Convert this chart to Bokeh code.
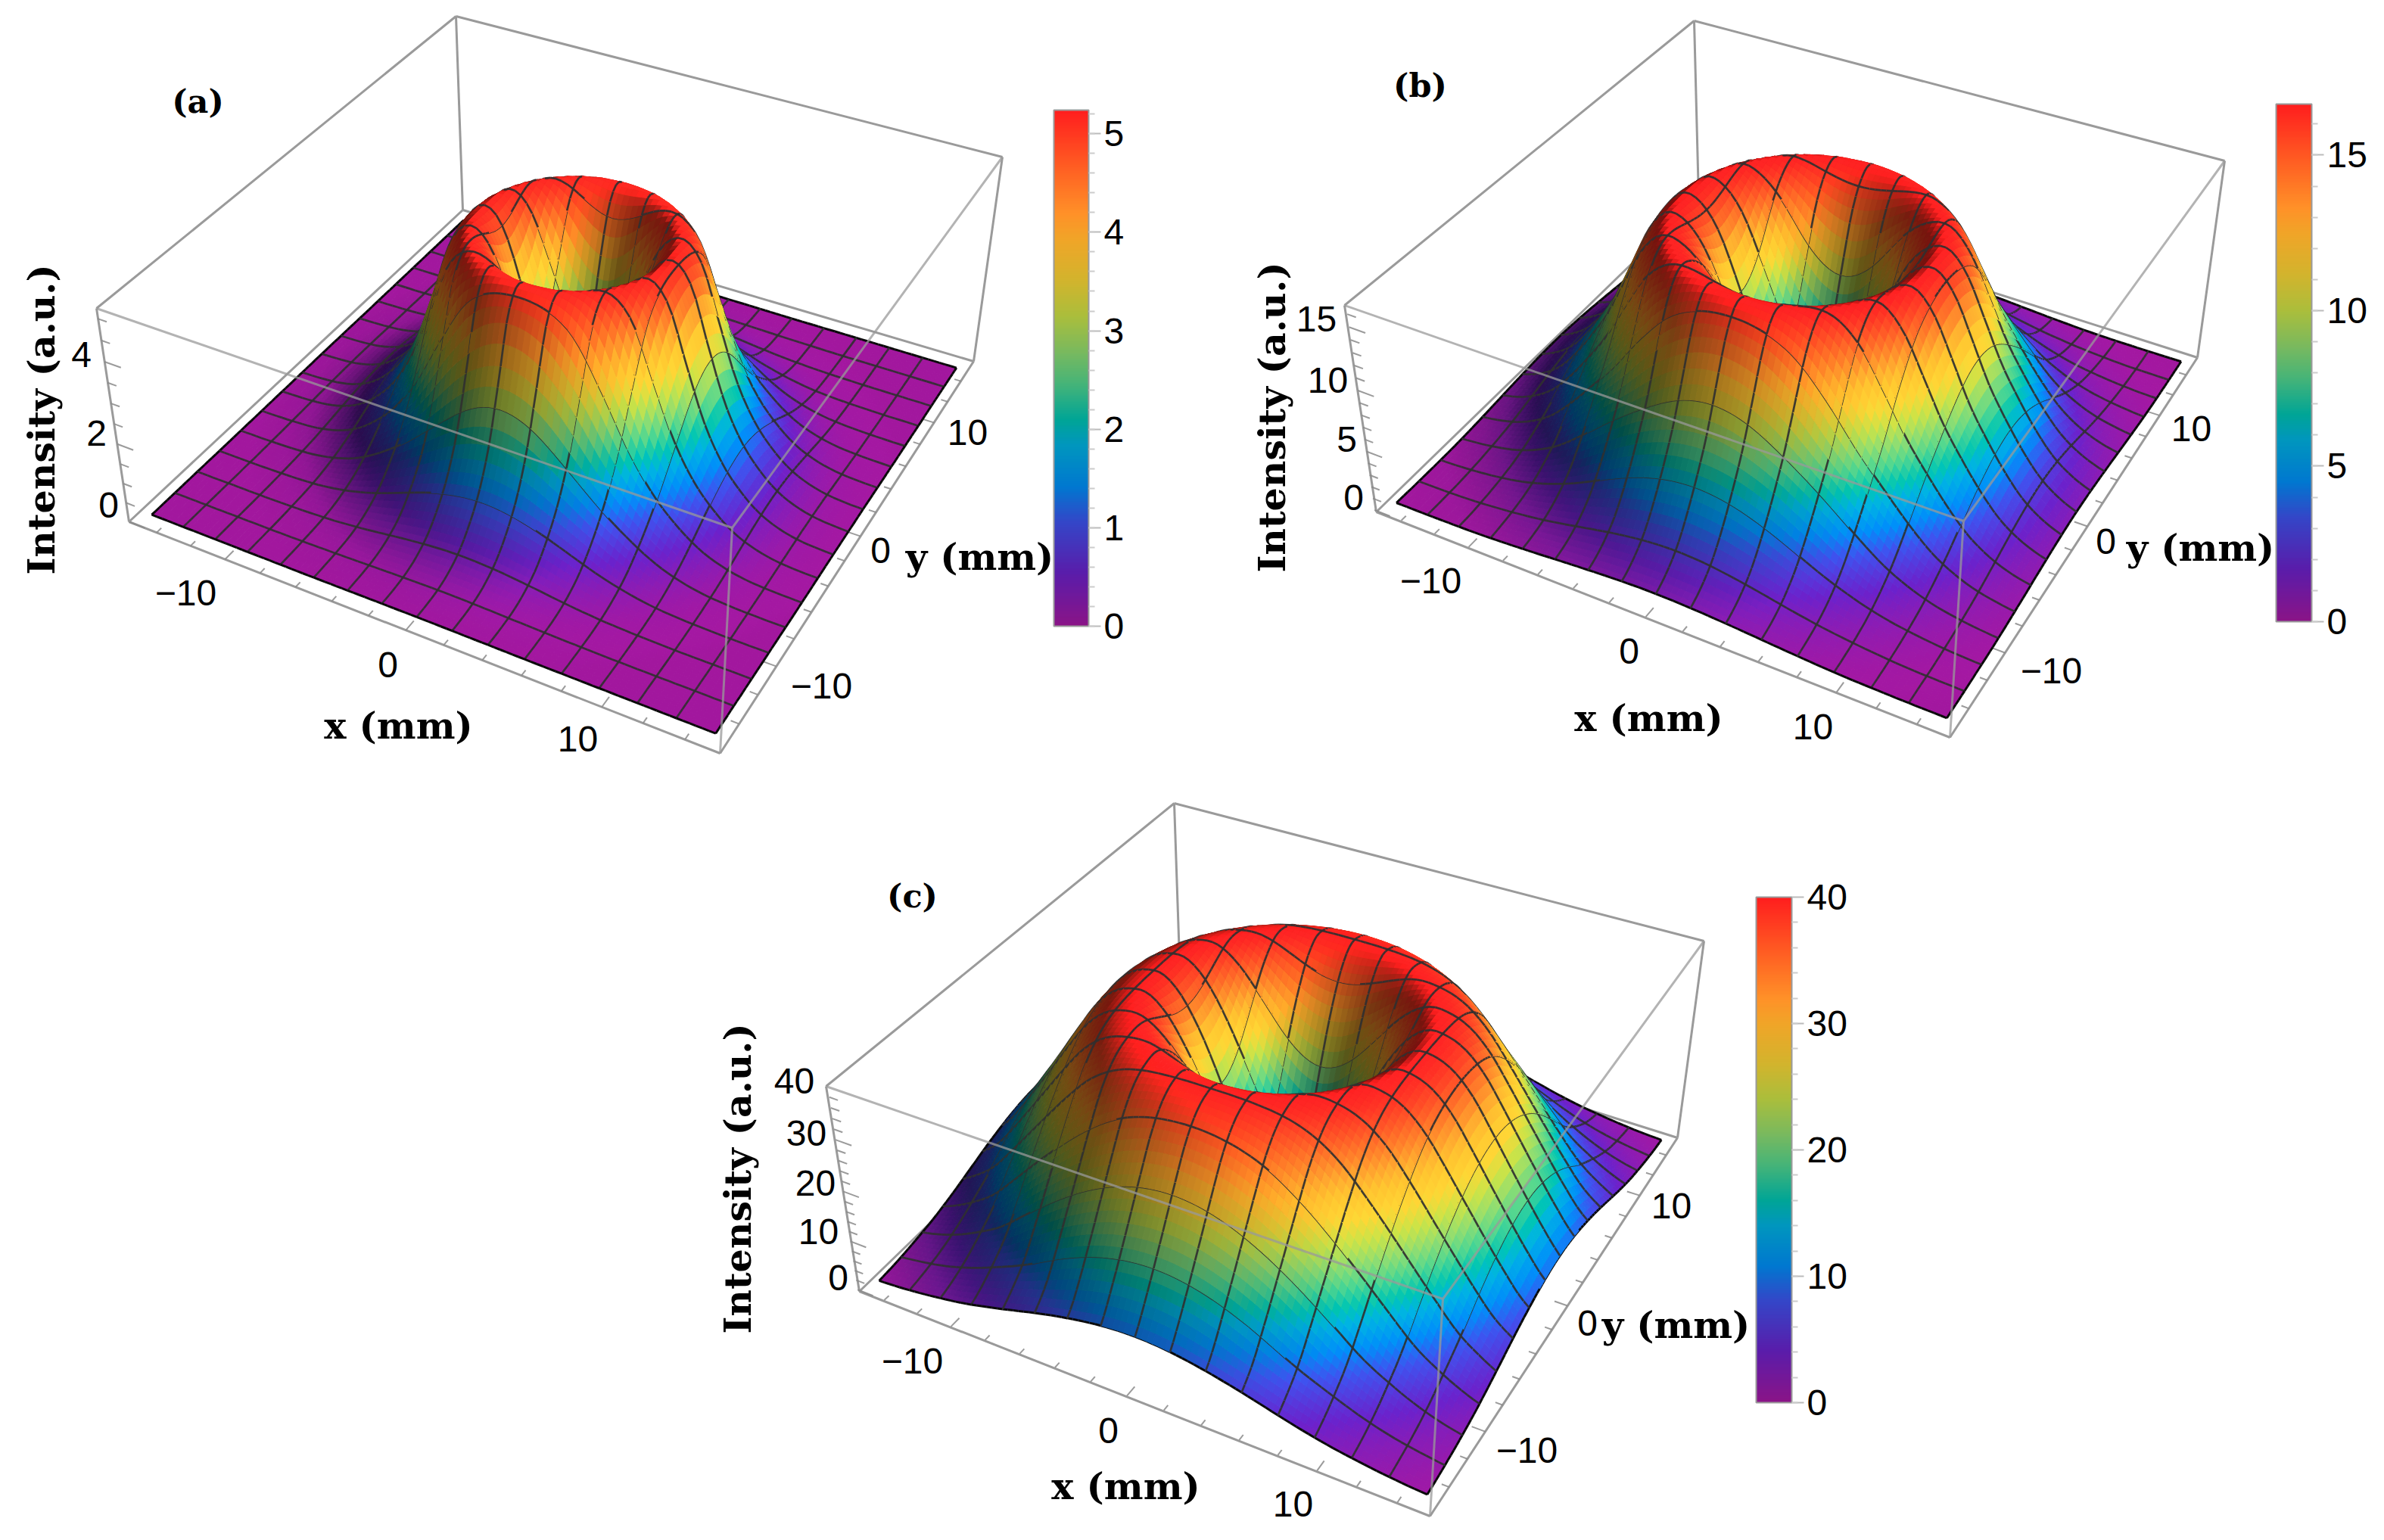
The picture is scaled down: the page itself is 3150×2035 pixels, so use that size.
import numpy as np
from bokeh.plotting import figure
from bokeh.layouts import column, row
from bokeh.models import Range1d, ColumnDataSource, ColorBar, LinearColorMapper, FixedTicker, Spacer
from bokeh.core.properties import value
from bokeh.embed import file_html
from bokeh.resources import INLINE

# ---- data -----------------------------------------------------------------
R_MM = [0, 1, 2, 3, 4, 5, 6, 7, 8, 9, 10, 11, 12, 13, 14, 15, 16, 17, 18, 19, 20, 21, 22, 23]
I_A = [0, .45, 1.8, 3.5, 4.8, 5.2, 4.75, 3.45, 2.2, 1.35, .8, .42, .2, .08, .03, .01, 0, 0, 0, 0, 0, 0, 0, 0]
I_B = [0, 1.0, 3.6, 7.0, 11.0, 14.5, 16.3, 16.6, 15.0, 12.0, 8.9, 6.5, 4.4, 2.7, 1.6, .9, .5, .25, .1, .04, .01, 0, 0, 0]
I_C = [0, 1.8, 7.2, 15.5, 24, 31.5, 37, 39.8, 39.7, 38, 34.5, 29.5, 24.2, 19, 14, 9.5, 6.5, 4.2, 2.6, 1.6, .9, .47, .25, .1]
ZMAX_A, ZMAX_B, ZMAX_C = 5.24, 16.64, 40.0
CENTER_A, CENTER_B, CENTER_C = (0.3, -0.1), (0.0, 0.0), (0.0, 0.0)
Z_TICKS_A, Z_TICKS_B, Z_TICKS_C = [0, 2, 4], [0, 5, 10, 15], [0, 10, 20, 30, 40]
BAR_TICKS_A, BAR_TICKS_B, BAR_TICKS_C = [0, 1, 2, 3, 4, 5], [0, 5, 10, 15], [0, 10, 20, 30, 40]
Z_MINOR_A, Z_MINOR_B, Z_MINOR_C = 0.5, 1.0, 2.0
BAR_MINOR_A, BAR_MINOR_B, BAR_MINOR_C = 0.2, 1.0, 2.0
XY_TICKS = [-10, 0, 10]
XY_MINOR = [-14, -12, -8, -6, -4, -2, 2, 4, 6, 8, 12, 14]
XLABEL, YLABEL, ZLABEL = "x (mm)", "y (mm)", "Intensity (a.u.)"

# ---- styling -------------------------------------------------------------
STOPS = [(0, (138, 20, 135)), (.1, (90, 28, 170)), (.2, (52, 70, 200)), (.27, (0, 120, 208)), (.35, (0, 150, 190)),
         (.4, (0, 165, 150)), (.47, (70, 180, 120)), (.53, (120, 185, 95)), (.6, (170, 190, 60)), (.67, (210, 180, 45)),
         (.75, (240, 165, 40)), (.8, (255, 145, 40)), (.88, (255, 100, 35)), (1, (255, 30, 30))]
SP = np.array([s[0] for s in STOPS])
SC = np.array([s[1] for s in STOPS], float)
NUM = "Liberation Sans"
SERIF = "DejaVu Serif"
EDGE = "#9a9a9a"


def cmap(t):
    return np.stack([np.interp(t, SP, SC[:, i]) for i in range(3)], axis=-1)


PALETTE = ["#%02x%02x%02x" % tuple(int(round(c)) for c in cmap(i / 255)) for i in range(256)]


def catmull(r, rs, vs):
    rs = np.asarray(rs, float); vs = np.asarray(vs, float)
    i = np.clip(np.floor(r).astype(int), 0, len(rs) - 2)
    t = r - rs[i]
    p0 = vs[np.maximum(i - 1, 0)]; p1 = vs[i]; p2 = vs[i + 1]; p3 = vs[np.minimum(i + 2, len(rs) - 1)]
    return np.maximum(0, .5 * (2 * p1 + (p2 - p0) * t + (2 * p0 - 5 * p1 + 4 * p2 - p3) * t * t + (3 * p1 - p0 - 3 * p2 + p3) * t ** 3))


class Cam:
    def __init__(self, c):
        # c: pixel positions of box corners LB FB RB BB LT FT RT BT
        uvw = [(0, 0, 0), (1, 0, 0), (1, 1, 0), (0, 1, 0), (0, 0, 1), (1, 0, 1), (1, 1, 1), (0, 1, 1)]
        A = []
        for (u, v, w), (x, y) in zip(uvw, c):
            x /= 1000; y /= 1000
            A.append([u, v, w, 1, 0, 0, 0, 0, -x * u, -x * v, -x * w, -x])
            A.append([0, 0, 0, 0, u, v, w, 1, -y * u, -y * v, -y * w, -y])
        _, _, V = np.linalg.svd(np.array(A))
        self.P = V[-1].reshape(3, 4)
        _, _, V2 = np.linalg.svd(self.P)
        self.C = V2[-1][:3] / V2[-1][3]

    def project(self, u, v, w):
        u, v, w = np.asarray(u, float), np.asarray(v, float), np.asarray(w, float)
        X = np.stack([u, v, w, np.ones_like(u)], axis=-1)
        h = X @ self.P.T
        return 1000 * h[..., 0] / h[..., 2], 1000 * h[..., 1] / h[..., 2]

    def dist(self, u, v, w):
        return np.sqrt((u - self.C[0]) ** 2 + (v - self.C[1]) ** 2 + (w - self.C[2]) ** 2)


PADX, PADY = 0.02, 0.03
def U(x): return PADX + (np.asarray(x, float) + 15) / 30 * (1 - 2 * PADX)
def V(y): return PADY + (np.asarray(y, float) + 15) / 30 * (1 - 2 * PADY)

L = np.array([.72, -.05, .69]); L = L / np.linalg.norm(L)
HEIGHT = 0.6
SUB = 6


def panel(frame, corners, prof, center, zmax, zt, zminor, bar, bart, barminor, tx, ty, tz, lx, ly, lz, tag):
    x0, x1, y0, y1 = frame
    p = figure(width=x1 - x0, height=y1 - y0, x_range=Range1d(x0, x1), y_range=Range1d(y1, y0),
               x_axis_location=None, y_axis_location=None, toolbar_location=None, output_backend="svg",
               min_border=0, outline_line_color=None)
    p.grid.visible = False
    cam = Cam(corners)
    c = {k: corners[i] for i, k in enumerate("LB FB RB BB LT FT RT BT".split())}

    def edges(names, alpha, width=3):
        xs = [[c[a][0], c[b][0]] for a, b in names]
        ys = [[c[a][1], c[b][1]] for a, b in names]
        p.multi_line(xs, ys, line_color=EDGE, line_width=width, line_alpha=alpha)

    edges([("LB", "FB"), ("FB", "RB"), ("RB", "BB"), ("BB", "LB"), ("BT", "BB"), ("BT", "LT"), ("BT", "RT"),
           ("LT", "LB"), ("RT", "RB")], 1)

    # axis ticks on the box
    def ticks(seq, fn, col="#8a8a8a", width=2):
        xs, ys = [], []
        for s, ln in seq:
            a, b = fn(s, ln)
            xs.append([float(a[0]), float(b[0])]); ys.append([float(a[1]), float(b[1])])
        p.multi_line(xs, ys, line_color=col, line_width=width, line_alpha=.85)

    seqx = [(t, .022) for t in XY_TICKS] + [(t, .012) for t in XY_MINOR]
    ticks(seqx, lambda s, l: (cam.project(U(s), 0, 0), cam.project(U(s), l, 0)))
    ticks(seqx, lambda s, l: (cam.project(1, V(s), 0), cam.project(1 - l, V(s), 0)))
    zs = np.arange(0, zmax, zminor)
    seqz = [(float(t), .03 if min(abs(t - m) for m in zt) < 1e-6 else .016) for t in zs]
    ticks(seqz, lambda s, l: (cam.project(0, 0, s / zmax), cam.project(l, 0, s / zmax)))

    # surface on a fine grid, mesh lines share its vertices
    n = 16 * SUB
    gx = np.linspace(-15, 15, n + 1)
    X, Y = np.meshgrid(gx, gx, indexing="ij")
    Z = catmull(np.hypot(X - center[0], Y - center[1]), R_MM, prof)
    u, v, w = U(X), V(Y), Z / zmax
    px, py = cam.project(u, v, w)
    h = w * HEIGHT
    du = (u[1:, 1:] + u[1:, :-1] - u[:-1, 1:] - u[:-1, :-1]) / 2
    dv = (v[1:, 1:] - v[1:, :-1] + v[:-1, 1:] - v[:-1, :-1]) / 2
    dhu = (h[1:, 1:] + h[1:, :-1] - h[:-1, 1:] - h[:-1, :-1]) / 2 / du
    dhv = (h[1:, 1:] - h[1:, :-1] + h[:-1, 1:] - h[:-1, :-1]) / 2 / dv
    nrm = np.sqrt(dhu ** 2 + dhv ** 2 + 1)
    nl = np.maximum(0, (-dhu * L[0] - dhv * L[1] + L[2]) / nrm)
    shade = np.minimum(.47 + 1.02 * nl, 1.2)
    wc = (w[1:, 1:] + w[1:, :-1] + w[:-1, 1:] + w[:-1, :-1]) / 4
    rgb = np.clip(cmap(np.clip(wc, 0, 1)) * shade[..., None], 0, 255).astype(int)

    items = []
    for i in range(n):
        for j in range(n):
            col = "#%02x%02x%02x" % tuple(rgb[i, j])
            uc = u[i:i + 2, j:j + 2].mean(); vc = v[i:i + 2, j:j + 2].mean(); wc_ = wc[i, j]
            d = cam.dist(uc, vc, wc_)
            items.append((d, [round(float(px[a, b]), 1) for a, b in ((i, j), (i + 1, j), (i + 1, j + 1), (i, j + 1))],
                          [round(float(py[a, b]), 1) for a, b in ((i, j), (i + 1, j), (i + 1, j + 1), (i, j + 1))],
                          col, col, 1.0, 1.0, 1.0))
    for k in range(17):
        idx = k * SUB
        edge = k in (0, 16)
        lc = "#0a0a0a" if edge else "#303030"
        la = 1.0 if edge else .92
        lw = 3.0 if edge else 2.7
        for m in range(n):
            for a0, b0, a1, b1 in ((idx, m, idx, m + 1), (m, idx, m + 1, idx)):
                um = (u[a0, b0] + u[a1, b1]) / 2; vm = (v[a0, b0] + v[a1, b1]) / 2; wm = (w[a0, b0] + w[a1, b1]) / 2
                d = cam.dist(um, vm, wm) - .012
                items.append((d, [round(float(px[a0, b0]), 1), round(float(px[a1, b1]), 1)],
                              [round(float(py[a0, b0]), 1), round(float(py[a1, b1]), 1)],
                              lc, lc, 0.0, la, lw))
    items.sort(key=lambda t: -t[0])
    src = ColumnDataSource(dict(xs=[t[1] for t in items], ys=[t[2] for t in items], fc=[t[3] for t in items],
                                lc=[t[4] for t in items], fa=[t[5] for t in items], la=[t[6] for t in items],
                                lw=[t[7] for t in items]))
    p.patches("xs", "ys", source=src, fill_color="fc", line_color="lc", fill_alpha="fa", line_alpha="la", line_width="lw")

    edges([("LT", "FT"), ("FT", "RT"), ("FT", "FB")], .75)

    # texts
    def txt(pts, labels, font, size, style="normal", angle=0.0):
        p.text(x=[q[0] for q in pts], y=[q[1] for q in pts], text=labels, text_font=value(font), text_font_size=size,
               text_font_style=style, text_align="center", text_baseline="middle", text_color="black", angle=angle)

    def lab(t):
        return str(t).replace("-", "\u2212")

    txt(tx, [lab(t) for t in XY_TICKS], NUM, "48px")
    txt(ty, [lab(t) for t in XY_TICKS], NUM, "48px")
    txt(tz, [lab(t) for t in zt], NUM, "48px")
    txt([lx], [XLABEL], SERIF, "49px", "bold")
    txt([ly], [YLABEL], SERIF, "49px", "bold")
    txt([lz], [ZLABEL], SERIF, "49px", "bold", np.pi / 2)
    txt([tag[0]], [tag[1]], SERIF, "43px", "bold")

    # colour bar
    bx0, bx1, by0, by1 = bar
    mapper = LinearColorMapper(palette=PALETTE, low=0, high=zmax)
    minors = [float(t) for t in np.arange(0, zmax, barminor)]
    cb = ColorBar(color_mapper=mapper, width=bx1 - bx0, height=by1 - by0, location=(bx0 - x0, y1 - by1), padding=0, margin=0,
                  ticker=FixedTicker(ticks=bart, minor_ticks=minors), major_tick_in=0, major_tick_out=16, minor_tick_in=0,
                  minor_tick_out=8, major_tick_line_color="#bbbbbb", minor_tick_line_color="#cccccc", major_tick_line_width=2,
                  minor_tick_line_width=2, bar_line_color="#9a9a9a", bar_line_width=2, label_standoff=4,
                  major_label_text_font=NUM, major_label_text_font_size="48px", major_label_text_color="black",
                  background_fill_alpha=0, border_line_color=None)
    p.add_layout(cb, "center")
    return p


pa = panel((0, 1590, 0, 1040),
           [(170, 689), (951, 995), (1286, 477), (611, 277), (127, 407), (967, 697), (1324, 207), (602, 21)],
           I_A, CENTER_A, ZMAX_A, Z_TICKS_A, Z_MINOR_A, (1392, 1438, 145, 827), BAR_TICKS_A, BAR_MINOR_A,
           [(245, 783), (512, 878), (763, 976)], [(1085, 906), (1163, 727), (1278, 571)], [(143, 667), (127, 572), (107, 468)],
           (526, 958), (1294, 735), (54, 554), ((261, 133), "(a)"))
pb = panel((1590, 3142, 0, 1040),
           [(1818, 676), (2576, 974), (2903, 472), (2244, 262), (1776, 403), (2594, 688), (2939, 212), (2238, 27)],
           I_B, CENTER_B, ZMAX_B, Z_TICKS_B, Z_MINOR_B, (3007, 3054, 137, 821), BAR_TICKS_B, BAR_MINOR_B,
           [(1890, 767), (2152, 860), (2395, 960)], [(2710, 886), (2782, 715), (2895, 566)],
           [(1788, 657), (1779, 580), (1754, 502), (1739, 421)],
           (2178, 948), (2907, 723), (1680, 551), ((1876, 112), "(b)"))
pc = panel((920, 2500, 1040, 2027),
           [(1135, 1706), (1889, 2003), (2216, 1503), (1559, 1296), (1091, 1435), (1906, 1716), (2251, 1243), (1551, 1061)],
           I_C, CENTER_C, ZMAX_C, Z_TICKS_C, Z_MINOR_C, (2320, 2367, 1185, 1853), BAR_TICKS_C, BAR_MINOR_C,
           [(1205, 1798), (1464, 1890), (1708, 1987)], [(2017, 1916), (2097, 1748), (2208, 1593)],
           [(1107, 1688), (1081, 1627), (1077, 1563), (1065, 1497), (1049, 1428)],
           (1487, 1963), (2214, 1750), (974, 1557), ((1205, 1183), "(c)"))

layout = column(row(pa, pb), row(Spacer(width=920, height=10), pc))
open("out.html", "w").write(file_html(layout, INLINE))
